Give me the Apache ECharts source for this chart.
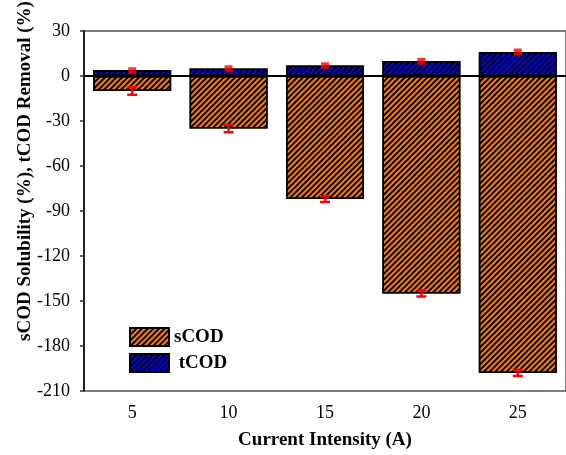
<!DOCTYPE html>
<html>
<head>
<meta charset="utf-8">
<script src="https://cdn.jsdelivr.net/npm/echarts@6/dist/echarts.min.js"></script>
<style>
  html, body { margin: 0; padding: 0; background: #fff; }
  #chart { width: 566px; height: 455px; }
</style>
</head>
<body>
<div id="chart"></div>
<script>
var categories = ["5", "10", "15", "20", "25"];
var sCOD = [-10, -35, -82, -145, -198];
var sCODErr = [2.5, 2.5, 2, 2, 2];
var tCOD = [4, 5, 7, 10, 16];
var tCODMark = [3.5, 4.8, 6.8, 9.8, 16];

var font = "Liberation Serif";

function hatch() {
  return {
    symbol: "rect",
    symbolSize: 1,
    color: "#000",
    dashArrayX: [1, 0],
    dashArrayY: [1.4, 1.8],
    rotation: -Math.PI / 4
  };
}

var chart = echarts.init(document.getElementById("chart"));

var option = {
  animation: false,
  grid: {
    left: 84,
    top: 31,
    width: 485,
    height: 360,
    show: true,
    borderColor: "#555",
    borderWidth: 1.5
  },
  legend: {
    orient: "vertical",
    left: 124,
    top: 322,
    icon: "rect",
    itemWidth: 39,
    itemHeight: 18,
    itemGap: 6,
    data: ["sCOD", "tCOD"],
    formatter: function (name) {
      return name === "tCOD" ? " " + name : name;
    },
    textStyle: { fontFamily: font, fontWeight: "bold", fontSize: 19, color: "#000" }
  },
  graphic: [
    {
      type: "text",
      x: 25,
      y: 171,
      rotation: Math.PI / 2,
      style: {
        text: "sCOD Solubility (%), tCOD Removal (%)",
        font: "bold 19px 'Liberation Serif'",
        fill: "#000",
        align: "center",
        verticalAlign: "middle"
      }
    }
  ],
  xAxis: {
    type: "category",
    data: categories,
    name: "Current Intensity (A)",
    nameLocation: "middle",
    nameGap: 40,
    nameTextStyle: { fontFamily: font, fontWeight: "bold", fontSize: 19, color: "#000" },
    axisLine: { lineStyle: { color: "#000", width: 1.5 } },
    axisTick: { alignWithLabel: true, length: 6, lineStyle: { color: "#333", width: 1.5 } },
    axisLabel: { fontFamily: font, fontSize: 18, color: "#000", margin: 13 }
  },
  yAxis: {
    type: "value",
    min: -210,
    max: 30,
    interval: 30,
    splitLine: { show: false },
    axisLine: { show: true, lineStyle: { color: "#000", width: 1.5 } },
    axisTick: { show: true, length: 4, lineStyle: { color: "#333", width: 1.5 } },
    axisLabel: { fontFamily: font, fontSize: 18, color: "#000", margin: 14 }
  },
  series: [
    {
      name: "sCOD",
      type: "bar",
      data: sCOD,
      barWidth: 78,
      barGap: "-100%",
      itemStyle: {
        color: "#ff8000",
        borderColor: "#000",
        borderWidth: 1.5,
        decal: hatch()
      }
    },
    {
      name: "tCOD",
      type: "bar",
      data: tCOD,
      barWidth: 78,
      itemStyle: {
        color: "#0000ff",
        borderColor: "#000",
        borderWidth: 1.5,
        decal: hatch()
      },
      markLine: {
        silent: true,
        symbol: "none",
        label: { show: false },
        lineStyle: { color: "#000", width: 2, type: "solid" },
        data: [{ yAxis: 0 }]
      }
    },
    {
      name: "sCOD error",
      type: "custom",
      z: 5,
      data: sCOD.map(function (v, i) { return [i, v, sCODErr[i]]; }),
      renderItem: function (params, api) {
        var x = api.value(0);
        var v = api.value(1);
        var e = api.value(2);
        var hi = api.coord([x, v + e]);
        var lo = api.coord([x, v - e]);
        var w = 5;
        var st = { stroke: "#ff0000", lineWidth: 2.5 };
        return {
          type: "group",
          children: [
            { type: "line", shape: { x1: hi[0], y1: hi[1], x2: lo[0], y2: lo[1] }, style: st },
            { type: "line", shape: { x1: hi[0] - w, y1: hi[1], x2: hi[0] + w, y2: hi[1] }, style: st },
            { type: "line", shape: { x1: lo[0] - w, y1: lo[1], x2: lo[0] + w, y2: lo[1] }, style: st }
          ]
        };
      }
    },
    {
      name: "tCOD error",
      type: "scatter",
      z: 5,
      data: tCODMark,
      symbol: "rect",
      symbolSize: [8, 7],
      itemStyle: { color: "#ff0000" }
    }
  ]
};

chart.setOption(option);
</script>
</body>
</html>
